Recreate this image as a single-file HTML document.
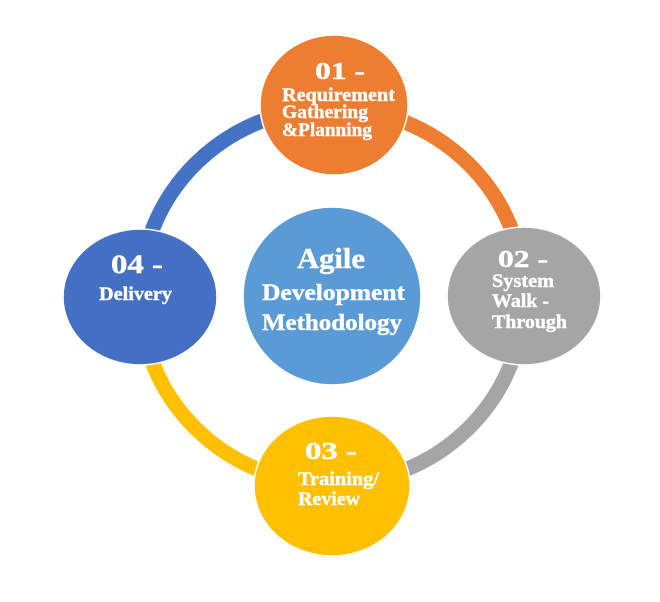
<!DOCTYPE html>
<html><head><meta charset="utf-8"><style>
html,body{margin:0;padding:0;background:#fff;}
svg{display:block;}
text{font-family:"Liberation Serif",serif;font-weight:bold;fill:#fff;stroke:#fff;stroke-width:0.4;}
</style></head><body>
<svg width="660" height="602" viewBox="0 0 660 602" xmlns="http://www.w3.org/2000/svg">
<g fill="none" stroke-width="15">
<path d="M332 108 A192 188 0 0 1 524 296" stroke="#ED7D31"/>
<path d="M524 296 A192 188 0 0 1 332 484" stroke="#A5A5A5"/>
<path d="M332 484 A192 188 0 0 1 140 296" stroke="#FFC000"/>
<path d="M140 296 A192 188 0 0 1 332 108" stroke="#4472C4"/>
</g>
<g stroke="#fff" stroke-width="1.5">
<ellipse cx="334" cy="105" rx="74" ry="70" fill="#ED7D31"/>
<ellipse cx="524" cy="296" rx="77" ry="69" fill="#A5A5A5"/>
<ellipse cx="332" cy="486" rx="78" ry="70" fill="#FFC000"/>
<ellipse cx="140" cy="297" rx="77" ry="68" fill="#4370C3"/>
<ellipse cx="332" cy="296" rx="89" ry="89" fill="#5B9BD5"/>
</g>
<text x="315" y="79" font-size="24" textLength="50" lengthAdjust="spacingAndGlyphs">01 -</text>
<text x="282" y="101" font-size="19" textLength="113" lengthAdjust="spacingAndGlyphs">Requirement</text>
<text x="282" y="118" font-size="19" textLength="86" lengthAdjust="spacingAndGlyphs">Gathering</text>
<text x="282" y="136" font-size="19" textLength="90" lengthAdjust="spacingAndGlyphs">&amp;Planning</text>

<text x="498" y="267" font-size="24" textLength="50" lengthAdjust="spacingAndGlyphs">02 -</text>
<text x="492" y="287" font-size="19" textLength="62" lengthAdjust="spacingAndGlyphs">System</text>
<text x="492" y="307" font-size="19" textLength="57" lengthAdjust="spacingAndGlyphs">Walk -</text>
<text x="492" y="328" font-size="19" textLength="75" lengthAdjust="spacingAndGlyphs">Through</text>

<text x="111" y="273" font-size="26" textLength="52" lengthAdjust="spacingAndGlyphs">04 -</text>
<text x="99" y="300" font-size="19" textLength="73" lengthAdjust="spacingAndGlyphs">Delivery</text>

<text x="297" y="268" font-size="29" textLength="68" lengthAdjust="spacingAndGlyphs">Agile</text>
<text x="262" y="300" font-size="23" textLength="143" lengthAdjust="spacingAndGlyphs">Development</text>
<text x="262" y="330" font-size="23" textLength="140" lengthAdjust="spacingAndGlyphs">Methodology</text>

<text x="305" y="459" font-size="24" textLength="52" lengthAdjust="spacingAndGlyphs">03 -</text>
<text x="298" y="485" font-size="19" textLength="81" lengthAdjust="spacingAndGlyphs">Training/</text>
<text x="298" y="505" font-size="19" textLength="62" lengthAdjust="spacingAndGlyphs">Review</text>
</svg>
</body></html>
